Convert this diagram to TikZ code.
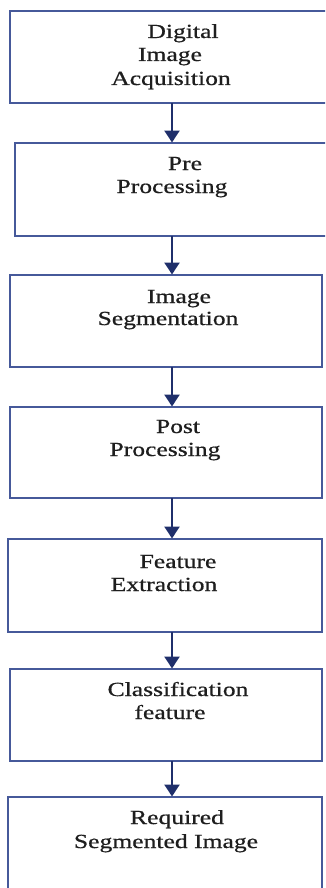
\documentclass[tikz,border=0pt]{standalone}
\usepackage{fontspec}
\newfontfamily\boxfont[FakeStretch=1.28,FakeBold=0.7]{Liberation Serif}
\usetikzlibrary{arrows.meta}
\definecolor{boxline}{HTML}{46599A}
\definecolor{arrowcol}{HTML}{1F2F6B}
\definecolor{txtcol}{HTML}{1E1E1E}
\tikzset{
  stage/.style={draw=boxline, line width=2.6pt, fill=white, rectangle, inner sep=0pt, outer sep=0pt},
  lbl/.style={anchor=base, inner sep=0pt, text=txtcol, font=\boxfont\fontsize{20}{23.5}\selectfont},
  flow/.style={draw=arrowcol, line width=2.6pt, -{Triangle[width=15pt,length=12pt]}, shorten >=0.5pt}
}
\begin{document}
\begin{tikzpicture}[x=1pt,y=-1pt]
\useasboundingbox (0,0) rectangle (325,888);
\clip (0,0) rectangle (325,888);
% boxes
\node[stage, minimum width=320pt, minimum height=92pt] (b1) at (170,57) {};
\node[stage, minimum width=315pt, minimum height=93pt] (b2) at (172.5,189.5) {};
\node[stage, minimum width=312pt, minimum height=92pt] (b3) at (166,321) {};
\node[stage, minimum width=312pt, minimum height=91pt] (b4) at (166,452.5) {};
\node[stage, minimum width=314pt, minimum height=93pt] (b5) at (165,585.5) {};
\node[stage, minimum width=312pt, minimum height=92pt] (b6) at (166,715) {};
\node[stage, minimum width=314pt, minimum height=96pt] (b7) at (165,845) {};
% text lines
\node[lbl] (t1a) at (183,38) {Digital};
\node[lbl] (t1b) at (170,61) {Image};
\node[lbl] (t1c) at (171,85) {Acquisition};
\node[lbl] (t2a) at (185,170) {Pre};
\node[lbl] (t2b) at (172,193) {Processing};
\node[lbl] (t3a) at (179,303) {Image};
\node[lbl] (t3b) at (168,325) {Segmentation};
\node[lbl] (t4a) at (178,433) {Post};
\node[lbl] (t4b) at (165,456) {Processing};
\node[lbl] (t5a) at (178,568) {Feature};
\node[lbl] (t5b) at (164,591) {Extraction};
\node[lbl] (t6a) at (178,696) {Classification};
\node[lbl] (t6b) at (170,719) {feature};
\node[lbl] (t7a) at (177,824) {Required};
\node[lbl] (t7b) at (166,848) {Segmented Image};
% arrows
\draw[flow] (b1.south -| 172,0) -- (b2.north -| 172,0);
\draw[flow] (b2.south -| 172,0) -- (b3.north -| 172,0);
\draw[flow] (b3.south -| 172,0) -- (b4.north -| 172,0);
\draw[flow] (b4.south -| 172,0) -- (b5.north -| 172,0);
\draw[flow] (b5.south -| 172,0) -- (b6.north -| 172,0);
\draw[flow] (b6.south -| 172,0) -- (b7.north -| 172,0);
\end{tikzpicture}
\end{document}
